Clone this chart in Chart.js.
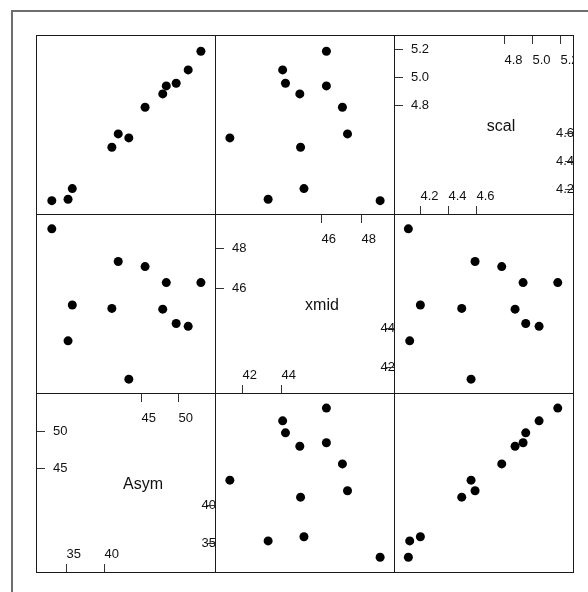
<!DOCTYPE html>
<html>
<head>
<meta charset="utf-8">
<script src="https://cdn.jsdelivr.net/npm/chart.js@4.4.1/dist/chart.umd.min.js"></script>
<style>
    html, body { margin: 0; padding: 0; background: #ffffff; overflow: hidden; }
    #page { position: relative; width: 588px; height: 592px; overflow: hidden; }
    #frame { position: absolute; left: 11px; top: 10px; width: 640px; height: 640px; border: 2px solid #6e6e6e; }
    canvas.panel { position: absolute; }
</style>
</head>
<body>
<div id="page">
    <div id="frame"></div>
</div>
<script>
// one point per fitted group
const asym = [32.5, 34.8, 35.4, 41.0, 41.9, 43.4, 45.7, 48.2, 48.7, 50.1, 51.8, 53.6];
const xmid = [49.17, 43.23, 45.13, 44.95, 47.44, 41.2, 47.17, 44.91, 46.32, 44.15, 44.0, 46.32];
const scal = [4.09, 4.10, 4.18, 4.49, 4.59, 4.56, 4.79, 4.89, 4.95, 4.97, 5.07, 5.21];

// tick values drawn inside the diagonal panels (low half: bottom/right, high half: top/left)
const asymLowTicks = [35, 40];
const asymHighTicks = [45, 50];
const xmidLowTicks = [42, 44];
const xmidHighTicks = [46, 48];
const scalLowTicks = [4.2, 4.4, 4.6];
const scalHighTicks = [4.8, 5.0, 5.2];

const variables = [
    { name: 'Asym', values: asym, min: 30.9, max: 55.1, low: asymLowTicks, high: asymHighTicks, digits: 0 },
    { name: 'xmid', values: xmid, min: 40.65, max: 49.72, low: xmidLowTicks, high: xmidHighTicks, digits: 0 },
    { name: 'scal', values: scal, min: 4.016, max: 5.298, low: scalLowTicks, high: scalHighTicks, digits: 1 }
];

const PANEL = 179;
const LEFT = 36;
const TOP = 35;
const TICK_FONT = "13px 'Liberation Sans', Arial, sans-serif";
const NAME_FONT = "16px 'Liberation Sans', Arial, sans-serif";

const panelBorder = {
    id: 'panelBorder',
    afterDraw(chart) {
        const ctx = chart.ctx;
        ctx.save();
        ctx.strokeStyle = '#1a1a1a';
        ctx.lineWidth = 1;
        ctx.strokeRect(0.5, 0.5, chart.width - 1, chart.height - 1);
        ctx.restore();
    }
};

const diagLabels = {
    id: 'diagLabels',
    afterDraw(chart, args, opts) {
        const v = opts.variable;
        if (!v) return;
        const ctx = chart.ctx;
        const x = chart.scales.x;
        const y = chart.scales.y;
        const w = chart.width;
        const h = chart.height;
        const fmt = n => n.toFixed(v.digits);

        ctx.save();
        ctx.beginPath();
        ctx.rect(0, 0, w, h);
        ctx.clip();
        ctx.strokeStyle = '#333333';
        ctx.fillStyle = '#111111';
        ctx.lineWidth = 1;
        ctx.font = TICK_FONT;
        ctx.textBaseline = 'middle';

        v.low.forEach(t => {
            const px = Math.round(x.getPixelForValue(t)) + 0.5;
            ctx.beginPath();
            ctx.moveTo(px, h);
            ctx.lineTo(px, h - 9);
            ctx.stroke();
            ctx.textAlign = 'left';
            ctx.fillText(fmt(t), px, h - 19);

            const py = Math.round(y.getPixelForValue(t)) + 0.5;
            ctx.textAlign = 'right';
            ctx.fillText(fmt(t), w, py);
            ctx.beginPath();
            ctx.moveTo(w, py);
            ctx.lineTo(w - 9, py);
            ctx.stroke();
        });

        v.high.forEach(t => {
            const px = Math.round(x.getPixelForValue(t)) + 0.5;
            ctx.beginPath();
            ctx.moveTo(px, 0);
            ctx.lineTo(px, 9);
            ctx.stroke();
            ctx.textAlign = 'left';
            ctx.fillText(fmt(t), px, 25);

            const py = Math.round(y.getPixelForValue(t)) + 0.5;
            ctx.beginPath();
            ctx.moveTo(0, py);
            ctx.lineTo(9, py);
            ctx.stroke();
            ctx.fillText(fmt(t), 17, py);
        });

        ctx.font = NAME_FONT;
        ctx.textAlign = 'center';
        ctx.fillText(v.name, w / 2 + 17, h / 2 + 2);
        ctx.restore();
    }
};

function makePanel(row, col) {
    const xv = variables[col];
    const yv = variables[2 - row];
    const canvas = document.createElement('canvas');
    canvas.className = 'panel';
    canvas.width = PANEL + 1;
    canvas.height = PANEL + 1;
    canvas.style.left = (LEFT + col * PANEL) + 'px';
    canvas.style.top = (TOP + row * PANEL) + 'px';
    document.getElementById('page').appendChild(canvas);

    const isDiag = xv === yv;
    const datasets = isDiag ? [] : [{
        data: xv.values.map((d, i) => ({ x: d, y: yv.values[i] })),
        pointRadius: 4.5,
        pointBackgroundColor: '#000000',
        pointBorderWidth: 0,
        pointHoverRadius: 4.5
    }];

    return new Chart(canvas, {
        type: 'scatter',
        data: { datasets: datasets },
        options: {
            responsive: false,
            animation: false,
            events: [],
            layout: { padding: 0 },
            plugins: {
                legend: { display: false },
                tooltip: { enabled: false },
                diagLabels: { variable: isDiag ? xv : null }
            },
            scales: {
                x: { type: 'linear', min: xv.min, max: xv.max, display: false },
                y: { type: 'linear', min: yv.min, max: yv.max, display: false }
            }
        },
        plugins: [diagLabels, panelBorder]
    });
}

for (let r = 0; r < 3; r++) {
    for (let c = 0; c < 3; c++) {
        makePanel(r, c);
    }
}
</script>
</body>
</html>
